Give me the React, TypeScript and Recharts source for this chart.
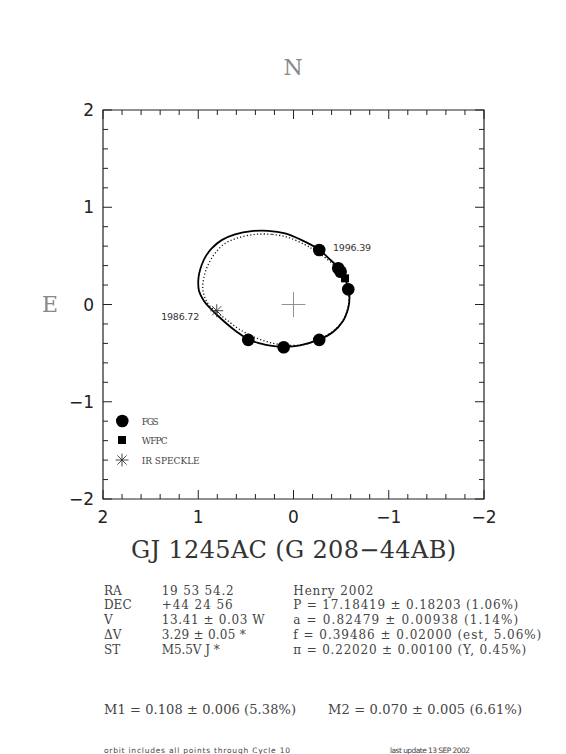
import React from 'react';
import {
  ComposedChart, XAxis, YAxis, Scatter, Line, ReferenceArea, ReferenceLine, ReferenceDot, Legend,
} from 'recharts';

const W = 566, H = 754;
const L = 103, T = 110, R = 484, B = 499;
const MAJOR = 9, MINOR = 5;

// axis ticks (every 0.2 arcsec)
const axisTicks = [-2, -1.8, -1.6, -1.4, -1.2, -1, -0.8, -0.6, -0.4, -0.2, 0, 0.2, 0.4, 0.6, 0.8, 1, 1.2, 1.4, 1.6, 1.8, 2];
const majorTickValues = [2, 1, 0, -1, -2];
const majorTickLabels = ['2', '1', '0', '\u22121', '\u22122'];

// fitted orbit (solid), read around the curve
const fitX = [0.265, 0.439, 0.614, 0.754, 0.859, 0.925, 0.964, 0.990, 1.000, 0.992, 0.940, 0.877, 0.803, 0.698, 0.593, 0.475, 0.352, 0.226, 0.103, -0.068, -0.271, -0.415, -0.520, -0.575, -0.588, -0.575, -0.541, -0.470, -0.373, -0.260, -0.086, 0.089];
const fitY = [0.758, 0.755, 0.721, 0.662, 0.577, 0.490, 0.406, 0.320, 0.241, 0.139, 0.036, -0.036, -0.108, -0.200, -0.282, -0.359, -0.400, -0.426, -0.436, -0.421, -0.359, -0.282, -0.169, -0.036, 0.077, 0.156, 0.269, 0.378, 0.472, 0.570, 0.662, 0.731];

// second orbit (dotted)
const dotX = [0.229, 0.404, 0.580, 0.719, 0.824, 0.900, 0.940, 0.953, 0.930, 0.887, 0.800, 0.700, 0.560, 0.390, 0.210, 0.040, -0.120, -0.270, -0.415, -0.520, -0.572, -0.583, -0.567, -0.530, -0.460, -0.360, -0.230, -0.121, 0.055];
const dotY = [0.721, 0.721, 0.686, 0.628, 0.526, 0.400, 0.280, 0.170, 0.070, -0.005, -0.080, -0.160, -0.260, -0.345, -0.400, -0.420, -0.410, -0.355, -0.275, -0.160, -0.030, 0.095, 0.180, 0.280, 0.370, 0.460, 0.550, 0.615, 0.690];

// observations
const fgsX = [-0.27, -0.47, -0.495, -0.575, -0.27, 0.103, 0.475];
const fgsY = [0.56, 0.372, 0.337, 0.156, -0.364, -0.44, -0.364];
const wfpcX = [-0.541];
const wfpcY = [0.269];
const speckleX = [0.806];
const speckleY = [-0.064];

// epoch annotations
const epochText = ['1996.39', '1986.72'];
const epochX = [-0.415, 0.99];
const epochY = [0.59, -0.128];
const epochAnchor = ['start', 'end'];

// centre cross
const crossHalfX = 0.125;
const crossHalfY = 0.13;

// legend
const legendNames = ['FGS', 'WFPC', 'IR SPECKLE'];

// text block
const starLabels = ['RA', 'DEC', 'V', '\u0394V', 'ST'];
const starValues = ['19 53 54.2', '+44 24 56', '13.41 \u00b1 0.03 W', '3.29 \u00b1 0.05 *', 'M5.5V J *'];
const starValueWidths = [72, 71, 103, 84, 58];
const orbitLines = [
  'Henry 2002',
  'P = 17.18419 \u00b1 0.18203 (1.06%)',
  'a = 0.82479 \u00b1 0.00938 (1.14%)',
  'f = 0.39486 \u00b1 0.02000 (est, 5.06%)',
  '\u03c0 = 0.22020 \u00b1 0.00100 (Y, 0.45%)',
];
const orbitLineWidths = [80, 225, 225, 248, 233];
const massLines = ['M1 = 0.108 \u00b1 0.006 (5.38%)', 'M2 = 0.070 \u00b1 0.005 (6.61%)'];
const footerLines = ['orbit includes all points through Cycle 10', 'last update 13 SEP 2002'];
const title = 'GJ 1245AC (G 208\u221244AB)';

const toPts = (xs: number[], ys: number[]) => xs.map((x, i) => ({ x, y: ys[i] }));
const fitData = toPts(fitX, fitY);
const dotData = toPts(dotX, dotY);
const fgsData = toPts(fgsX, fgsY);
const wfpcData = toPts(wfpcX, wfpcY);
const speckleData = toPts(speckleX, speckleY);

// closed Catmull-Rom curve factory (drawing style for the closed orbit paths)
const closedSmooth = (context: any) => {
  let pts: number[][] = [];
  return {
    areaStart() {},
    areaEnd() {},
    lineStart() { pts = []; },
    point(x: number, y: number) { pts.push([+x, +y]); },
    lineEnd() {
      const n = pts.length;
      if (n < 3) return;
      const p = (i: number) => pts[((i % n) + n) % n];
      context.moveTo(pts[0][0], pts[0][1]);
      for (let i = 0; i < n; i++) {
        const p0 = p(i - 1), p1 = p(i), p2 = p(i + 1), p3 = p(i + 2);
        context.bezierCurveTo(
          p1[0] + (p2[0] - p0[0]) / 6, p1[1] + (p2[1] - p0[1]) / 6,
          p2[0] - (p3[0] - p1[0]) / 6, p2[1] - (p3[1] - p1[1]) / 6,
          p2[0], p2[1],
        );
      }
      context.closePath();
    },
  };
};

const TICK_COLOR = '#222';
const SERIF = '"DejaVu Serif", "Liberation Serif", serif';
const SANS = '"DejaVu Sans", "Liberation Sans", sans-serif';

const isMajor = (v: number) => Math.abs(v - Math.round(v)) < 1e-6;
const labelFor = (v: number) => {
  const i = majorTickValues.findIndex((m) => Math.abs(m - v) < 1e-6);
  return i >= 0 ? majorTickLabels[i] : '';
};

const XTick = (props: any) => {
  const { x, payload } = props;
  const v = payload.value;
  const major = isMajor(v);
  const len = major ? MAJOR : MINOR;
  return (
    <g>
      <line x1={x} x2={x} y1={B} y2={B - len} stroke={TICK_COLOR} strokeWidth={1} />
      <line x1={x} x2={x} y1={T} y2={T + len} stroke={TICK_COLOR} strokeWidth={1} />
      {major && (
        <text x={x} y={B + 24} textAnchor="middle" fontFamily={SANS} fontSize={17} fill="#222">
          {labelFor(v)}
        </text>
      )}
    </g>
  );
};

const YTick = (props: any) => {
  const { y, payload } = props;
  const v = payload.value;
  const major = isMajor(v);
  const len = major ? MAJOR : MINOR;
  return (
    <g>
      <line x1={L} x2={L + len} y1={y} y2={y} stroke={TICK_COLOR} strokeWidth={1} />
      <line x1={R} x2={R - len} y1={y} y2={y} stroke={TICK_COLOR} strokeWidth={1} />
      {major && (
        <text x={L - 9} y={y + 6} textAnchor="end" fontFamily={SANS} fontSize={17} fill="#222">
          {labelFor(v)}
        </text>
      )}
    </g>
  );
};

const Asterisk = ({ cx, cy, r = 6.5 }: { cx: number; cy: number; r?: number }) => {
  const d = r * 0.7071;
  return (
    <g stroke="#333" strokeWidth={0.9}>
      <line x1={cx - r} x2={cx + r} y1={cy} y2={cy} />
      <line x1={cx} x2={cx} y1={cy - r} y2={cy + r} />
      <line x1={cx - d} x2={cx + d} y1={cy - d} y2={cy + d} />
      <line x1={cx - d} x2={cx + d} y1={cy + d} y2={cy - d} />
    </g>
  );
};

const LegendBox = () => (
  <svg width={110} height={62} style={{ display: 'block' }}>
    <circle cx={12.3} cy={11} r={6.3} fill="#000" />
    <rect x={8} y={26} width={8} height={8} fill="#000" />
    <Asterisk cx={12} cy={50} r={6.5} />
    {legendNames.map((n, i) => (
      <text key={n} x={31.7} y={[14.5, 33.5, 53.5][i]} fontFamily={SERIF} fontSize={9} fill="#444"
        textLength={[17, 26, 58][i]} lengthAdjust="spacing">
        {n}
      </text>
    ))}
  </svg>
);

export default function App() {
  return (
    <div style={{ position: 'absolute', left: 0, top: 0, width: W, height: H, background: '#fff' }}>
      <ComposedChart
        width={W}
        height={H}
        margin={{ top: T, left: L - 40, right: W - R, bottom: H - B - 30 }}
      >
        <XAxis
          type="number"
          dataKey="x"
          domain={[-2, 2]}
          reversed
          ticks={axisTicks}
          tick={<XTick />}
          tickLine={false}
          axisLine={false}
          height={30}
          interval={0}
          allowDataOverflow
        />
        <YAxis
          type="number"
          dataKey="y"
          domain={[-2, 2]}
          ticks={axisTicks}
          tick={<YTick />}
          tickLine={false}
          axisLine={false}
          width={40}
          interval={0}
          allowDataOverflow
        />
        <ReferenceArea x1={-2} x2={2} y1={-2} y2={2} fill="none" stroke="#222" strokeWidth={1.2} fillOpacity={0} ifOverflow="visible" />
        <ReferenceLine segment={[{ x: -crossHalfX, y: 0 }, { x: crossHalfX, y: 0 }]} stroke="#888" strokeWidth={0.9} />
        <ReferenceLine segment={[{ x: 0, y: -crossHalfY }, { x: 0, y: crossHalfY }]} stroke="#888" strokeWidth={0.9} />
        <Line data={dotData} dataKey="y" type={closedSmooth as any} stroke="#111" strokeWidth={1.3} strokeDasharray="1.2 2.2" dot={false} activeDot={false} isAnimationActive={false} legendType="none" />
        <Line data={fitData} dataKey="y" type={closedSmooth as any} stroke="#000" strokeWidth={1.8} dot={false} activeDot={false} isAnimationActive={false} legendType="none" />
        <Scatter data={fgsData} dataKey="y" name="FGS" isAnimationActive={false}
          shape={(p: any) => <circle cx={p.cx} cy={p.cy} r={6.3} fill="#000" />} />
        <Scatter data={wfpcData} dataKey="y" name="WFPC" isAnimationActive={false}
          shape={(p: any) => <rect x={p.cx - 4} y={p.cy - 4} width={8} height={8} fill="#000" />} />
        <Scatter data={speckleData} dataKey="y" name="IR SPECKLE" isAnimationActive={false}
          shape={(p: any) => <Asterisk cx={p.cx} cy={p.cy} r={6.5} />} />
        {epochText.map((t, i) => (
          <ReferenceDot key={t} x={epochX[i]} y={epochY[i]} r={0}
            shape={(p: any) => (
              <text x={p.cx} y={p.cy + 3.5} textAnchor={epochAnchor[i] as any} fontFamily={SANS} fontSize={9.5} fill="#333"
                textLength={38} lengthAdjust="spacing">
                {t}
              </text>
            )} />
        ))}
        <Legend layout="vertical" align="center" verticalAlign="middle" content={() => <LegendBox />}
          wrapperStyle={{ position: 'absolute', left: 110, top: 410, width: 110, height: 62 }} />
      </ComposedChart>
      <svg width={W} height={H} style={{ position: 'absolute', left: 0, top: 0, pointerEvents: 'none' }}>
        <text x={293} y={75} textAnchor="middle" fontFamily={SERIF} fontSize={22} fill="#888">N</text>
        <text x={50} y={312} textAnchor="middle" fontFamily={SERIF} fontSize={22} fill="#888">E</text>
        <text x={131} y={558} fontFamily={SERIF} fontSize={24} fill="#333" textLength={325} lengthAdjust="spacing">{title}</text>
        {starLabels.map((s, i) => (
          <text key={s} x={104} y={594.5 + i * 14.8} fontFamily={SERIF} fontSize={12} fill="#444">{s}</text>
        ))}
        {starValues.map((s, i) => (
          <text key={s} x={161.7} y={594.5 + i * 14.8} fontFamily={SERIF} fontSize={12} fill="#444"
            textLength={starValueWidths[i]} lengthAdjust="spacing">{s}</text>
        ))}
        {orbitLines.map((s, i) => (
          <text key={s} x={293.3} y={594.5 + i * 14.8} fontFamily={SERIF} fontSize={12} fill="#444"
            textLength={orbitLineWidths[i]} lengthAdjust="spacing">{s}</text>
        ))}
        <text x={104} y={714} fontFamily={SERIF} fontSize={13} fill="#444" textLength={192} lengthAdjust="spacing">{massLines[0]}</text>
        <text x={328} y={714} fontFamily={SERIF} fontSize={13} fill="#444" textLength={194} lengthAdjust="spacing">{massLines[1]}</text>
        <text x={104} y={753} fontFamily={SANS} fontSize={7.5} fill="#444" textLength={186} lengthAdjust="spacing">{footerLines[0]}</text>
        <text x={390} y={753} fontFamily={SANS} fontSize={7.5} fill="#444" textLength={80} lengthAdjust="spacing">{footerLines[1]}</text>
      </svg>
    </div>
  );
}
